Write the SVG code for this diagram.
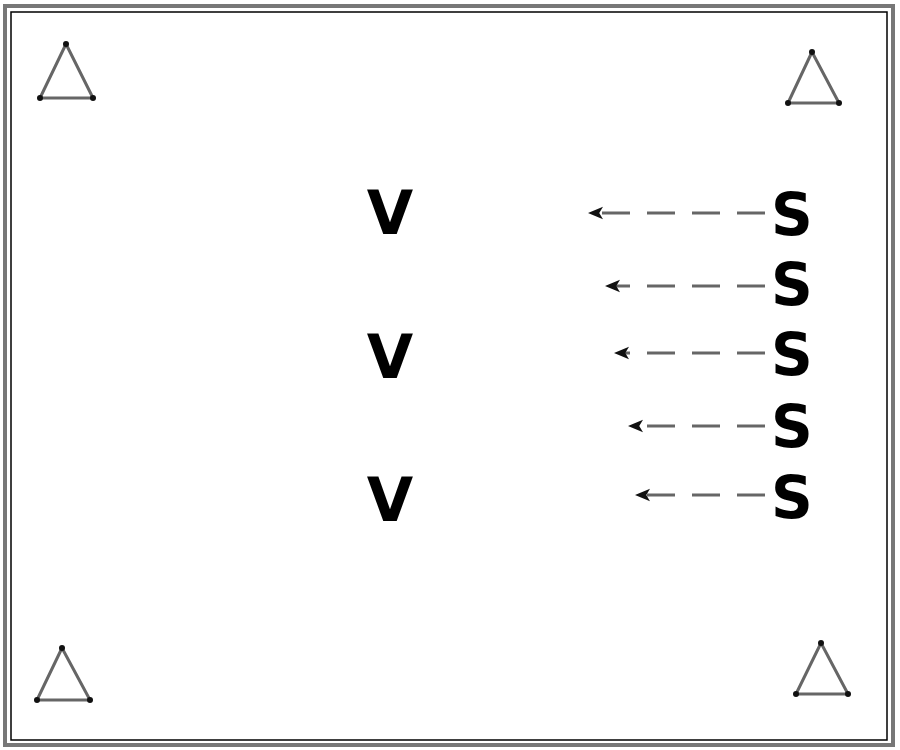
<svg xmlns="http://www.w3.org/2000/svg" width="900" height="750" viewBox="0 0 900 750">
<style>
.tri{fill:none;stroke:#666;stroke-width:3;stroke-linejoin:round}
.vx{fill:#111}
.lbl{font-family:"DejaVu Sans","Liberation Sans",sans-serif;font-weight:bold;fill:#000;text-anchor:middle;dominant-baseline:central}
.v{font-size:60px}
.s{font-size:58px}
.edge{fill:none;stroke:#666;stroke-width:3;stroke-dasharray:28 17}
</style>
<defs>
<marker id="ah" viewBox="0 0 12 10" refX="4" refY="5" markerWidth="5" markerHeight="5" orient="auto" markerUnits="strokeWidth">
<path d="M12,5 L0,0 L3,5 L0,10 Z" fill="#111"/>
</marker>
</defs>
<rect width="900" height="750" fill="#fff"/>
<g id="frame">
<rect x="5" y="6" width="888" height="739" fill="none" stroke="#777" stroke-width="4"/>
<rect x="11" y="12" width="876" height="728" fill="none" stroke="#000" stroke-width="1.5"/>
</g>
<g id="tri-tl"><polygon class="tri" points="66,44 40,98 93,98"/><circle class="vx" cx="66" cy="44" r="3"/><circle class="vx" cx="40" cy="98" r="3"/><circle class="vx" cx="93" cy="98" r="3"/></g>
<g id="tri-tr"><polygon class="tri" points="812,52 788,103 839,103"/><circle class="vx" cx="812" cy="52" r="3"/><circle class="vx" cx="788" cy="103" r="3"/><circle class="vx" cx="839" cy="103" r="3"/></g>
<g id="tri-bl"><polygon class="tri" points="62,648 37,700 90,700"/><circle class="vx" cx="62" cy="648" r="3"/><circle class="vx" cx="37" cy="700" r="3"/><circle class="vx" cx="90" cy="700" r="3"/></g>
<g id="tri-br"><polygon class="tri" points="821,643 796,694 848,694"/><circle class="vx" cx="821" cy="643" r="3"/><circle class="vx" cx="796" cy="694" r="3"/><circle class="vx" cx="848" cy="694" r="3"/></g>
<g id="v1"><text class="lbl v" x="390" y="213">V</text></g>
<g id="v2"><text class="lbl v" x="390" y="357">V</text></g>
<g id="v3"><text class="lbl v" x="390" y="500">V</text></g>
<g id="s1"><text class="lbl s" x="792" y="215">S</text></g>
<g id="s2"><text class="lbl s" x="792" y="285">S</text></g>
<g id="s3"><text class="lbl s" x="792" y="355">S</text></g>
<g id="s4"><text class="lbl s" x="792" y="427">S</text></g>
<g id="s5"><text class="lbl s" x="792" y="498">S</text></g>
<g id="connectors">
<path class="edge" d="M765,213 L598,213" marker-end="url(#ah)"/>
<path class="edge" d="M765,286 L615,286" marker-end="url(#ah)"/>
<path class="edge" d="M765,353 L624,353" marker-end="url(#ah)"/>
<path class="edge" d="M765,426 L638,426" marker-end="url(#ah)"/>
<path class="edge" d="M765,495 L645,495" marker-end="url(#ah)"/>
</g>
</svg>
